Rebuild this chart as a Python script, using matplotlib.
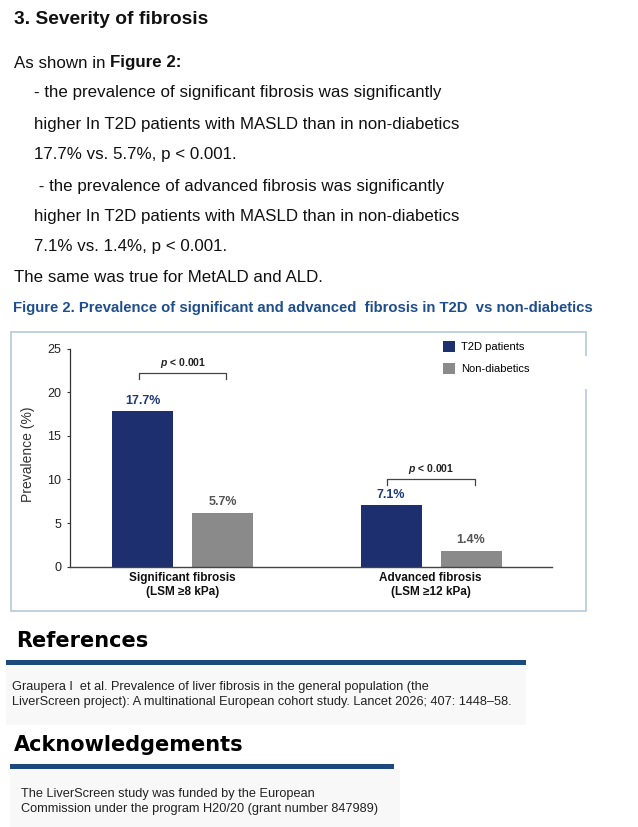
import matplotlib
matplotlib.use("Agg")
import matplotlib.pyplot as plt
from matplotlib.patches import Rectangle

# chart data
groups = ["Significant fibrosis\n(LSM ≥8 kPa)", "Advanced fibrosis\n(LSM ≥12 kPa)"]
series_names = ["T2D patients", "Non-diabetics"]
t2d = [17.8, 7.1]
non_diab = [6.2, 1.85]
t2d_labels = ["17.7%", "7.1%"]
non_diab_labels = ["5.7%", "1.4%"]
p_labels = ["< 0.001", "< 0.001"]
yticks = [0, 5, 10, 15, 20, 25]

body_lines = [
    "- the prevalence of significant fibrosis was significantly",
    "higher In T2D patients with MASLD than in non-diabetics",
    "17.7% vs. 5.7%, p < 0.001.",
    " - the prevalence of advanced fibrosis was significantly",
    "higher In T2D patients with MASLD than in non-diabetics",
    "7.1% vs. 1.4%, p < 0.001.",
]
ref_lines = [
    "Graupera I  et al. Prevalence of liver fibrosis in the general population (the",
    "LiverScreen project): A multinational European cohort study. Lancet 2026; 407: 1448–58.",
]
ack_lines = [
    "The LiverScreen study was funded by the European",
    "Commission under the program H20/20 (grant number 847989)",
]

plt.rcParams['font.family'] = ['Liberation Sans', 'DejaVu Sans']
plt.rcParams['mathtext.fontset'] = 'custom'
plt.rcParams['mathtext.it'] = 'Liberation Sans:italic:bold'

W, H = 638, 827
fig = plt.figure(figsize=(W / 100, H / 100), dpi=100)
fig.patch.set_facecolor('white')


def put(x, y, s, **kw):
    return fig.text(x / W, 1 - y / H, s, va='center', **kw)


def box(x0, y0, x1, y1, **kw):
    fig.add_artist(Rectangle((x0 / W, 1 - y1 / H), (x1 - x0) / W, (y1 - y0) / H,
                             transform=fig.transFigure, **kw))


# text above the chart
put(14, 19, "3. Severity of fibrosis", fontsize=13.8, fontweight='bold', color='#111')
t = put(14, 63, "As shown in ", fontsize=12.2, color='#111')
fig.canvas.draw()
x_end = t.get_window_extent().x1
fig.text(x_end / W, 1 - 63 / H, "Figure 2:", va='center', fontsize=12.2,
         fontweight='bold', color='#111')
ys = [93, 124, 155, 186, 217, 247]
for y, s in zip(ys, body_lines):
    put(34, y, s, fontsize=12.2, color='#111')
put(14, 277, "The same was true for MetALD and ALD.", fontsize=12.2, color='#111')
put(13, 308, "Figure 2. Prevalence of significant and advanced  fibrosis in T2D  vs non-diabetics",
    fontsize=10.75, fontweight='bold', color='#1f4e8c')

# chart frame
box(11, 332, 586, 611, fill=False, edgecolor='#b8c7da', lw=1.2)
box(582, 356, 592, 389, facecolor='white', edgecolor='none', zorder=3)

ax = fig.add_axes([69.8 / W, 1 - 566.7 / H, (552.3 - 69.8) / W, (566.7 - 348.5) / H])
x = [0, 1]
navy, grey = '#1d2f6f', '#8a8a8a'
b1 = ax.bar([i - 0.159 for i in x], t2d, 0.246, color=navy, label=series_names[0])
b2 = ax.bar([i + 0.163 for i in x], non_diab, 0.246, color=grey, label=series_names[1])

for rect, lab in zip(b1, t2d_labels):
    ax.annotate(lab, (rect.get_x() + rect.get_width() / 2, rect.get_height()),
                xytext=(0, 3), textcoords='offset points', ha='center', va='bottom',
                fontsize=9, fontweight='bold', color='#1f3a7a')
for rect, lab in zip(b2, non_diab_labels):
    ax.annotate(lab, (rect.get_x() + rect.get_width() / 2, rect.get_height()),
                xytext=(0, 3), textcoords='offset points', ha='center', va='bottom',
                fontsize=9, fontweight='bold', color='#555')

# significance brackets
bracket_y = [22.15, 10.0]
for i, (yb, p) in enumerate(zip(bracket_y, p_labels)):
    x0, x1 = x[i] - 0.174, x[i] + 0.178
    ax.plot([x0, x0, x1, x1], [yb - 0.6, yb, yb, yb - 0.6], color='#444', lw=0.9,
            clip_on=False)
    ax.text(x[i] + 0.003, yb + 1.15, "$p$ " + p, ha='center', va='center',
            fontsize=7.5, fontweight='bold', color='#222')

ax.set_xlim(-0.453, 1.49)
ax.set_ylim(0, 25)
ax.set_yticks(yticks)
ax.set_xticks(x)
ax.set_xticklabels(groups, fontsize=8.5, fontweight='bold', color='#111')
ax.tick_params(axis='x', length=0, pad=4)
ax.tick_params(axis='y', length=2.5, width=0.8, color='#333', labelsize=9,
               labelcolor='#222', pad=3.8)
for s in ['top', 'right']:
    ax.spines[s].set_visible(False)
ax.spines['left'].set_color('#333')
ax.spines['bottom'].set_color('#444')
ax.spines['left'].set_linewidth(0.9)
ax.spines['bottom'].set_linewidth(1.0)
ax.set_ylabel("Prevalence (%)", fontsize=10, color='#333')
ax.yaxis.set_label_coords(-0.072, 0.515)

fig.legend(handles=[b1, b2], loc='upper left',
           bbox_to_anchor=(442.7 / W, 1 - 341 / H), bbox_transform=fig.transFigure,
           frameon=False, fontsize=8, handlelength=1.12, handleheight=1.12,
           handletextpad=0.5, labelspacing=0.95, borderpad=0, borderaxespad=0)

# references and acknowledgements
box(6, 665, 526, 725, facecolor='#f8f8f8', edgecolor='none')
box(10, 769, 400, 827, facecolor='#f8f8f8', edgecolor='none')
put(16, 641, "References", fontsize=15, fontweight='bold', color='black',
    family='DejaVu Sans')
box(6, 660, 526, 665, facecolor='#1c4a7f', edgecolor='none')
for y, s in zip([687, 702], ref_lines):
    put(12, y, s, fontsize=9.2, color='#222')
put(14, 745, "Acknowledgements", fontsize=15, fontweight='bold', color='black',
    family='DejaVu Sans')
box(10, 764, 394, 769, facecolor='#1c4a7f', edgecolor='none')
for y, s in zip([794, 809], ack_lines):
    put(21, y, s, fontsize=9.2, color='#222')

fig.savefig("out.png", dpi=100, facecolor='white')
